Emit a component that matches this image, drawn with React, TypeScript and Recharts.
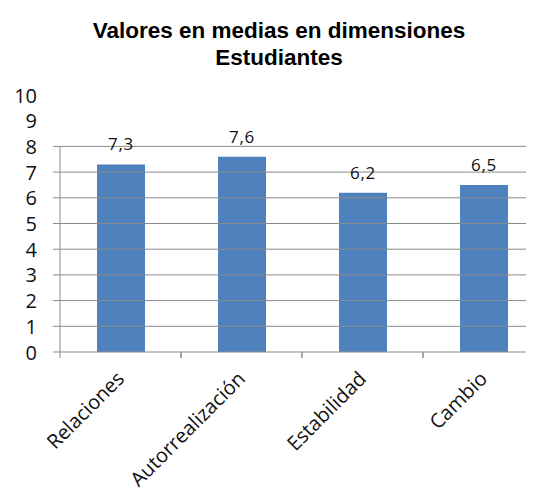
import React from 'react';
import {
  BarChart,
  Bar,
  XAxis,
  YAxis,
  ReferenceLine,
  LabelList
} from 'recharts';

const categories = ['Relaciones', 'Autorrealización', 'Estabilidad', 'Cambio'];
const medias = [7.3, 7.6, 6.2, 6.5];
const yTicks = [0, 1, 2, 3, 4, 5, 6, 7, 8, 9, 10];
const gridValues = [1, 2, 3, 4, 5, 6, 7, 8];

const data = categories.map((name, i) => ({ name, valor: medias[i] }));

const CHART_W = 546;
const CHART_H = 497;
const TOP = 95;
const AXIS_H = 145;
const LEFT = 60;
const STEP = (CHART_H - TOP - AXIS_H) / 10;
const BAND = (CHART_W - LEFT - 2) / categories.length;
const GRID = '#8a8a8a';
const BLUE = '#4f81bd';
const FONT = '"Open Sans", sans-serif';

const YTick = (props: any) => {
  const { y, payload } = props;
  const v = payload.value;
  return (
    <g>
      {v <= 8 && <line x1={LEFT - 7} y1={y} x2={LEFT} y2={y} stroke={GRID} />}
      {v >= 1 && v <= 8 && <line x1={LEFT} y1={y} x2={LEFT} y2={y + STEP} stroke={GRID} />}
      <text x={37} y={y + 7.5} textAnchor="end" fontSize={20} fontFamily={FONT} fill="#111">
        {v}
      </text>
    </g>
  );
};

const XTick = (props: any) => {
  const { x, payload } = props;
  const axisY = CHART_H - AXIS_H;
  const tx = x + 5;
  const ty = axisY + 28;
  return (
    <g>
      <line x1={x - BAND / 2} y1={axisY} x2={x - BAND / 2} y2={axisY + 6} stroke={GRID} />
      <line x1={x + BAND / 2} y1={axisY} x2={x + BAND / 2} y2={axisY + 6} stroke={GRID} />
      <text
        x={tx}
        y={ty}
        textAnchor="end"
        transform={`rotate(-45, ${tx}, ${ty})`}
        fontSize={20}
        fontFamily={FONT}
        fill="#111"
      >
        {payload.value}
      </text>
    </g>
  );
};

const ValueLabel = (props: any) => {
  const { x, y, width, value } = props;
  return (
    <text
      x={x + width / 2}
      y={y - 14}
      textAnchor="middle"
      fontSize={17}
      letterSpacing={0.8}
      fontFamily={FONT}
      fill="#111"
    >
      {String(value).replace('.', ',')}
    </text>
  );
};

export default function App() {
  return (
    <div style={{ margin: -8, width: 534, height: 497, overflow: 'hidden', position: 'relative', background: '#fff' }}>
      <div
        style={{
          position: 'absolute',
          left: 0,
          top: 16.7,
          width: 558,
          textAlign: 'center',
          fontFamily: '"Liberation Sans", Arial, sans-serif',
          fontWeight: 'bold',
          fontSize: 22.5,
          lineHeight: '27px',
          color: '#000',
          zIndex: 2
        }}
      >
        Valores en medias en dimensiones
        <br />
        Estudiantes
      </div>
      <BarChart
        width={CHART_W}
        height={CHART_H}
        data={data}
        margin={{ top: TOP, right: 2, left: 0, bottom: 0 }}
      >
        {gridValues.map(v => (
          <ReferenceLine key={v} y={v} stroke={GRID} strokeWidth={1} />
        ))}
        <XAxis
          dataKey="name"
          height={AXIS_H}
          axisLine={{ stroke: GRID }}
          tickLine={false}
          interval={0}
          tick={<XTick />}
        />
        <YAxis
          width={LEFT}
          domain={[0, 10]}
          ticks={yTicks}
          axisLine={false}
          tickLine={false}
          tick={<YTick />}
        />
        <Bar dataKey="valor" fill={BLUE} barSize={48} isAnimationActive={false}>
          <LabelList dataKey="valor" content={<ValueLabel />} />
        </Bar>
      </BarChart>
    </div>
  );
}
